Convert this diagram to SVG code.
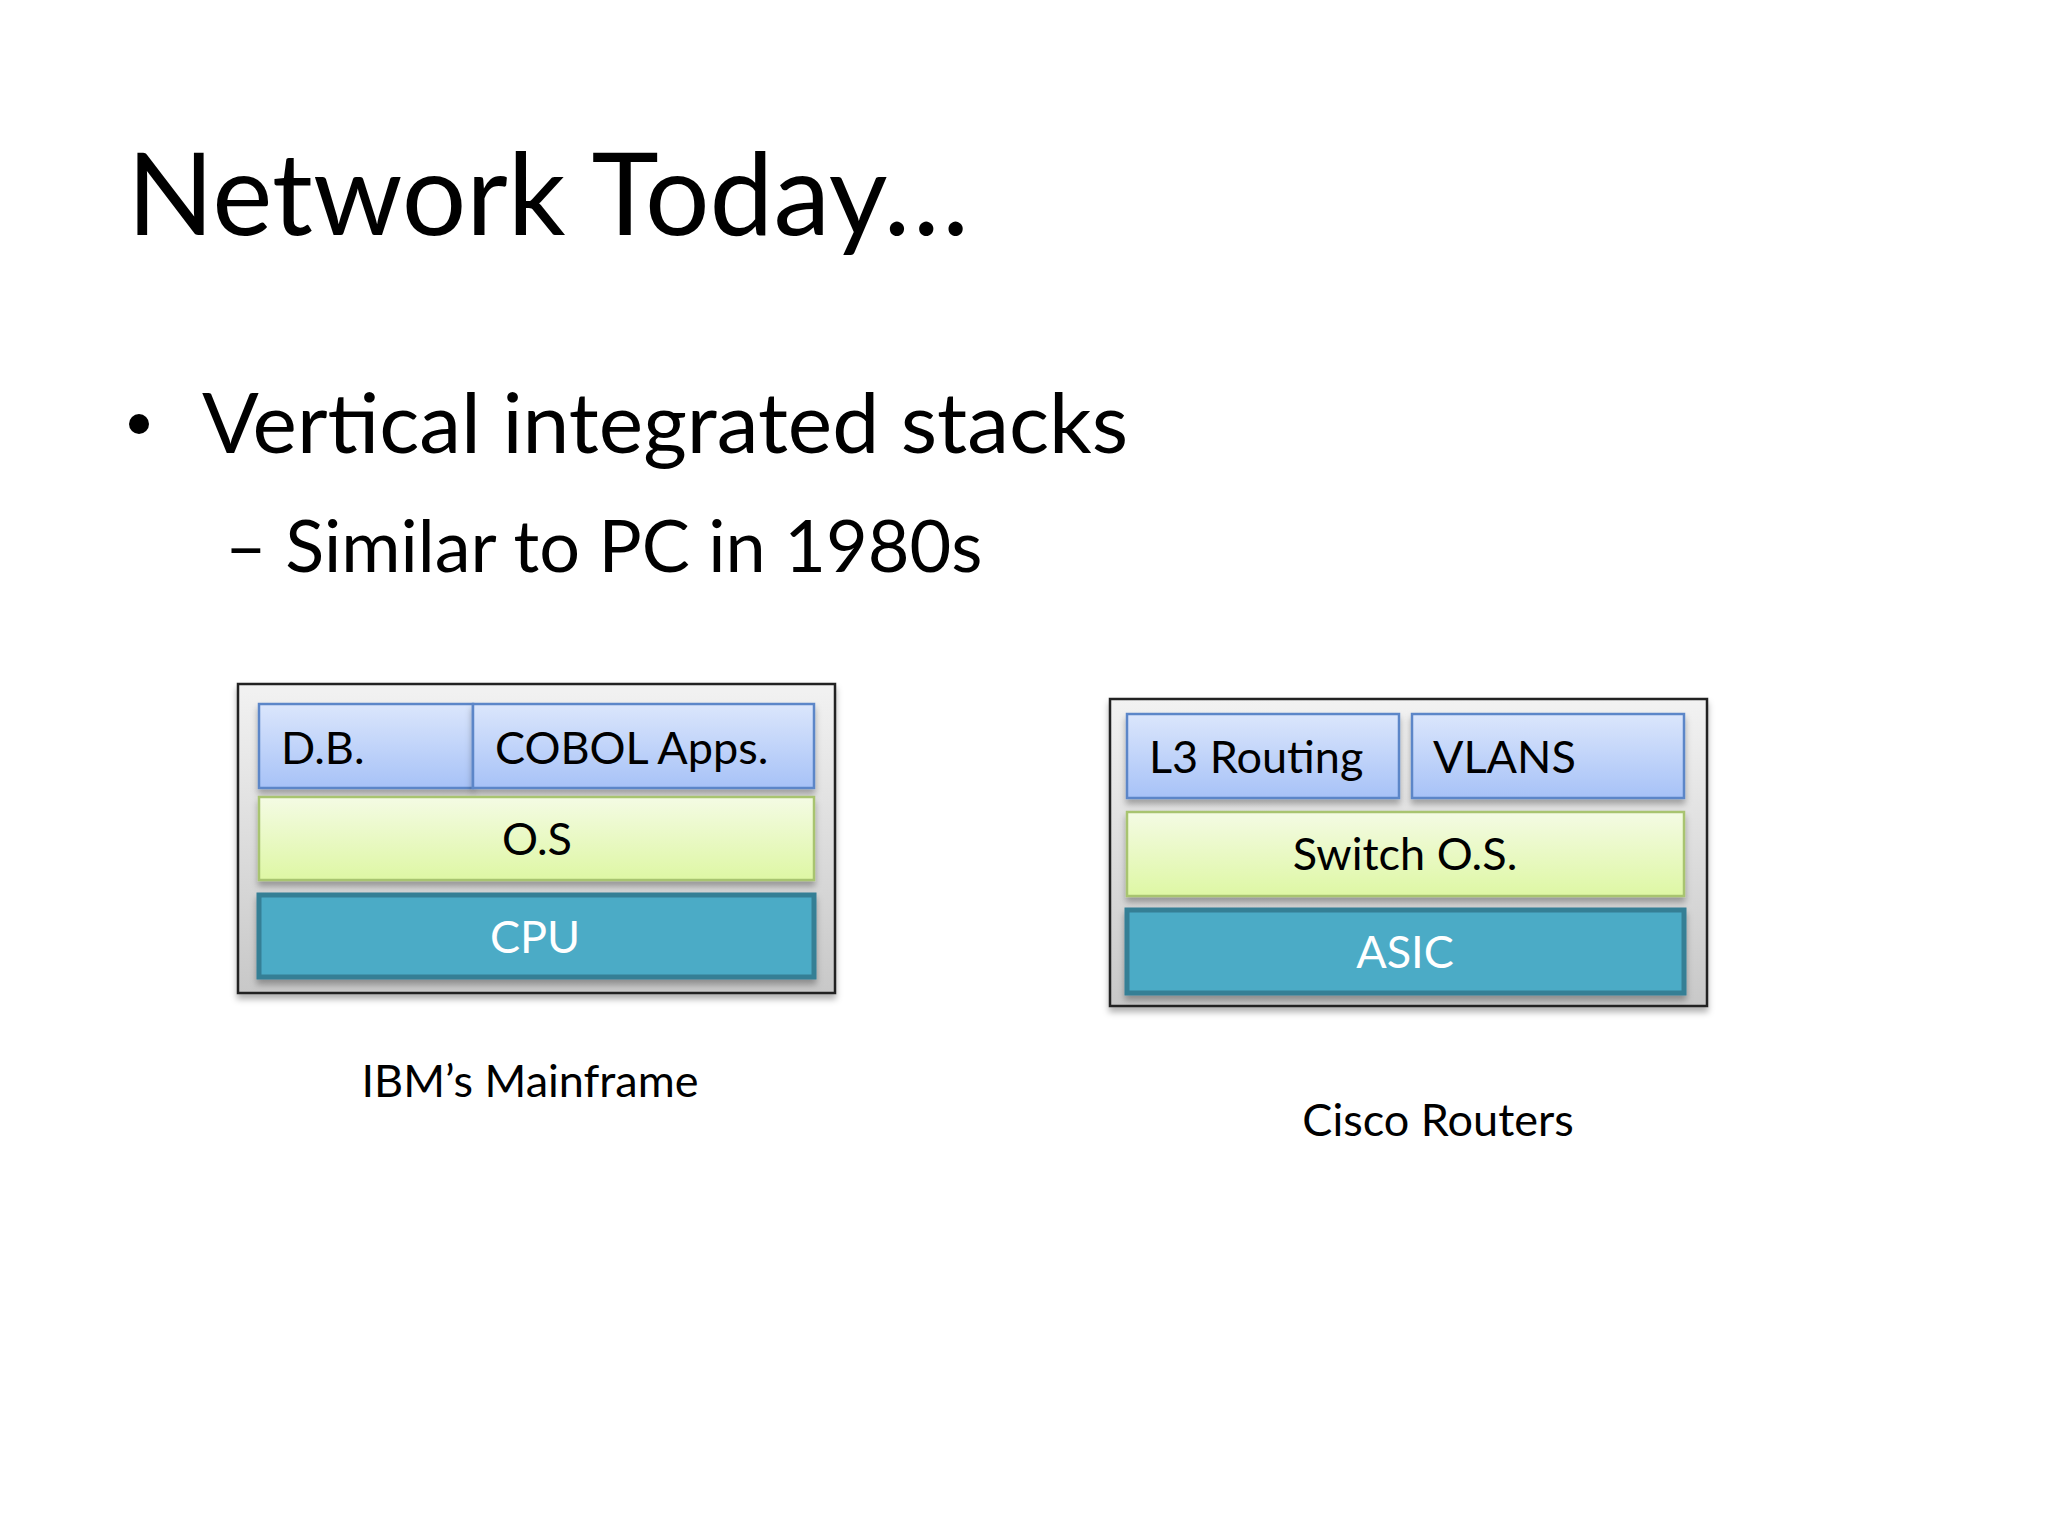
<svg xmlns="http://www.w3.org/2000/svg" width="2048" height="1536" viewBox="0 0 2048 1536">
<defs>
<linearGradient id="gOuter" x1="0" y1="0" x2="0" y2="1"><stop offset="0" stop-color="#f2f2f2"/><stop offset="1" stop-color="#c8c8c8"/></linearGradient>
<linearGradient id="gBlue" x1="0" y1="0" x2="0" y2="1"><stop offset="0" stop-color="#dbe6fc"/><stop offset="1" stop-color="#a7c2f7"/></linearGradient>
<linearGradient id="gGreen" x1="0" y1="0" x2="0" y2="1"><stop offset="0" stop-color="#f4fbe4"/><stop offset="1" stop-color="#def7a4"/></linearGradient>
<filter id="sh" x="-5%" y="-5%" width="110%" height="120%"><feDropShadow dx="0" dy="5" stdDeviation="3" flood-color="#000" flood-opacity="0.3"/></filter>
</defs>
<style>
text{font-family:Lato,"Liberation Sans",sans-serif;fill:#000}
.outer{fill:url(#gOuter);stroke:#222;stroke-width:2.5;filter:url(#sh)}
.blue{fill:url(#gBlue);stroke:#5b86c8;stroke-width:2.5;filter:url(#sh)}
.green{fill:url(#gGreen);stroke:#a8c470;stroke-width:2.5;filter:url(#sh)}
.teal{fill:#4babc6;stroke:#347f95;stroke-width:5;filter:url(#sh)}
.lbl{font-size:45px}
.w{fill:#fff}
</style>
<rect width="2048" height="1536" fill="#fff"/>
<text x="127" y="235" font-size="114">Network Today…</text>
<circle cx="139" cy="424" r="10" fill="#000"/>
<text x="202" y="453" font-size="84">Vertical integrated stacks</text>
<text x="225" y="572" font-size="72">– Similar to PC in 1980s</text>
<g id="mainframe">
<rect class="outer" x="238" y="684" width="597" height="309"/>
<rect class="blue" x="259" y="704" width="214" height="84"/>
<rect class="blue" x="473" y="704" width="341" height="84"/>
<rect class="green" x="259" y="797" width="555" height="83"/>
<rect class="teal" x="259" y="895" width="555" height="82"/>
<text class="lbl" x="281" y="764">D.B.</text>
<text class="lbl" x="495" y="764">COBOL Apps.</text>
<text class="lbl" x="537" y="855" text-anchor="middle">O.S</text>
<text class="lbl w" x="535" y="953" text-anchor="middle">CPU</text>
<text class="lbl" x="530" y="1097" text-anchor="middle">IBM’s Mainframe</text>
</g>
<g id="cisco">
<rect class="outer" x="1110" y="699" width="597" height="307"/>
<rect class="blue" x="1127" y="714" width="272" height="84"/>
<rect class="blue" x="1412" y="714" width="272" height="84"/>
<rect class="green" x="1127" y="812" width="557" height="84"/>
<rect class="teal" x="1127" y="910" width="557" height="83"/>
<text class="lbl" x="1149" y="773">L3 Routing</text>
<text class="lbl" x="1433" y="773">VLANS</text>
<text class="lbl" x="1405" y="870" text-anchor="middle">Switch O.S.</text>
<text class="lbl w" x="1405" y="968" text-anchor="middle">ASIC</text>
<text class="lbl" x="1438" y="1136" text-anchor="middle">Cisco Routers</text>
</g>
<g id="connectors"/>
</svg>
